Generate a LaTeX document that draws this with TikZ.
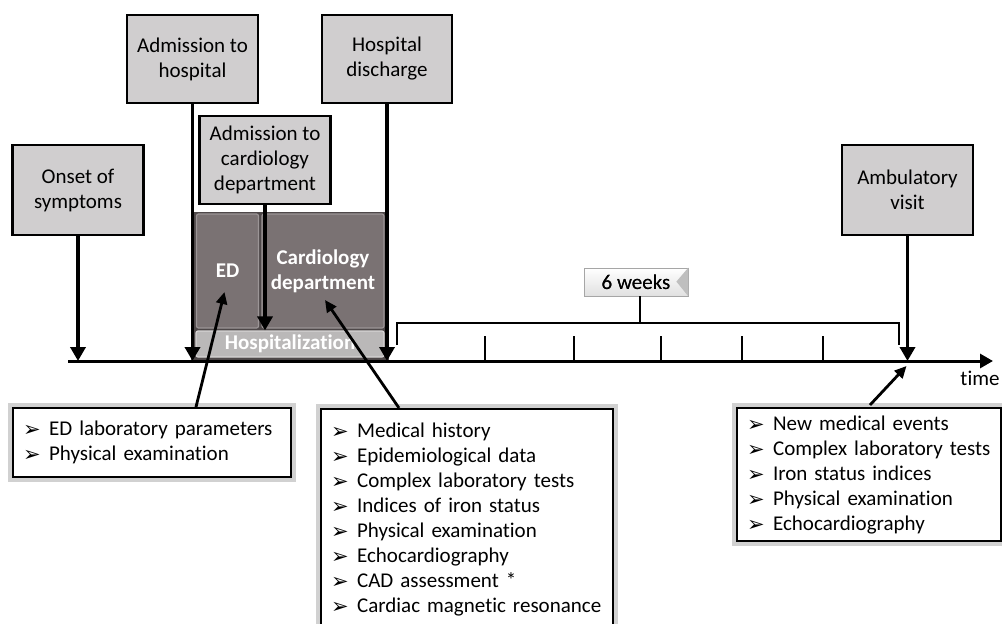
\documentclass[tikz,border=0pt]{standalone}
\usepackage{fontspec}
\setmainfont{Carlito}[Ligatures=NoCommon]
\newfontfamily\symfont{DejaVu Sans}
\usetikzlibrary{arrows.meta,calc}
\definecolor{boxgray}{HTML}{D0CECF}
\definecolor{panelc}{HTML}{7A7273}
\definecolor{paneldark}{HTML}{4E4849}
\definecolor{hospc}{HTML}{BAB8B8}
\newcommand{\itm}[1]{\makebox[26pt][l]{\raisebox{-1pt}{\symfont\fontsize{21}{21}\selectfont ➢}}\mbox{#1}}
\begin{document}
\begin{tikzpicture}[x=1pt,y=-1pt,
  every node/.style={inner sep=0pt},
  bigfont/.style={font=\fontsize{21}{25}\selectfont},
  evbox/.style={draw=black,line width=2.8pt,fill=boxgray,align=center,bigfont,minimum width=131pt,minimum height=88pt},
  downarrow/.style={line width=3.6pt,-{Triangle[width=15pt,length=14pt]}},
  ptr/.style={line width=2.8pt,-{Triangle[width=11pt,length=12pt]}},
  listbox/.style={draw=black,line width=2.2pt,fill=white,align=left,bigfont,inner xsep=10pt,
     preaction={draw=black!18,line width=10pt}},
  panelbox/.style={fill=panelc,draw=panelc!75!white,line width=1.2pt,rounded corners=2pt,text=white,align=center,font=\fontsize{21}{25}\selectfont\bfseries},
  tick/.style={line width=2.5pt}
]
\useasboundingbox (0,0) rectangle (1002,624);

% hospital stay block
\fill[paneldark] (191,212) rectangle (389,360);
\node[panelbox,minimum width=62pt,minimum height=114pt] (edpanel) at (227.5,271) {ED};
\node[panelbox,minimum width=122pt,minimum height=114pt] (cardpanel) at (323,271) {Cardiology\\department};
\node[fill=hospc,draw=hospc!60!white,line width=1.2pt,rounded corners=2pt,text=white,
      font=\fontsize{21}{25}\selectfont\bfseries,minimum width=188pt,minimum height=26pt] (hospbar) at (290,344) {Hospitalization};

% time axis
\coordinate (axisL) at (68,361);
\coordinate (axisR) at (993,361);
\draw[line width=3pt,-{Triangle[width=14pt,length=13pt]}] (axisL) -- (axisR);
\node[bigfont] (timelbl) at (980,378) {time};

% event boxes
\node[evbox,minimum height=90pt] (onset) at (78,190) {Onset of\\symptoms};
\node[evbox] (admhosp) at (192.5,59) {Admission to\\hospital};
\node[evbox] (admcard) at (265,160) {Admission to\\cardiology\\department};
\node[evbox,minimum width=130pt] (discharge) at (387,59) {Hospital\\discharge};
\node[evbox,minimum height=90pt] (ambul) at (907.5,190) {Ambulatory\\visit};

\draw[downarrow] (onset.south) -- (onset.south |- axisL);
\draw[downarrow] (admhosp.south) -- (admhosp.south |- axisL);
\draw[downarrow] (admcard.south) -- (admcard.south |- hospbar.north);
\draw[downarrow] (discharge.south) -- (discharge.south |- axisL);
\draw[downarrow] (ambul.south) -- (ambul.south |- axisL);

% 6 weeks bracket
\node[draw=black!35,line width=0.8pt,top color=white,bottom color=black!12,bigfont,
      minimum width=104pt,minimum height=28pt] (weeks) at (636,282) {6 weeks};
\fill[black!25] (weeks.north east) -- ++(-12,14) -- (weeks.south east) -- cycle;
\node[bigfont] at (weeks.center) {6 weeks};
\coordinate (brL) at (397,323);
\coordinate (brR) at (899,323);
\draw[line width=2.5pt] ($(brL)+(0,22)$) -- (brL) -- (brR) -- ($(brR)+(0,22)$);
\draw[line width=2.5pt] ($(weeks.south)+(4,0)$) -- ($(weeks.south -| brL)+(243,27)$);
\foreach \x in {485,574,661,742,823} \draw[tick] (\x,336) -- (\x,361);

% lists
\node[listbox,anchor=north west,text width=258pt,minimum height=69pt] (listed) at (12,407)
  {\itm{ED laboratory parameters}\\\itm{Physical examination}};
\node[listbox,anchor=north west,text width=272pt,minimum height=220pt] (listcard) at (320,408)
  {\itm{Medical history}\\\itm{Epidemiological data}\\\itm{Complex laboratory tests}\\\itm{Indices of iron status}\\\itm{Physical examination}\\\itm{Echocardiography}\\\itm{CAD assessment *}\\\itm{Cardiac magnetic resonance}};
\node[listbox,anchor=north west,text width=244pt,minimum height=133pt] (listamb) at (736,407)
  {\itm{New medical events}\\\itm{Complex laboratory tests}\\\itm{Iron status indices}\\\itm{Physical examination}\\\itm{Echocardiography}};

% pointers
\draw[ptr] ($(listed.north west)+(184,0)$) -- ($(edpanel.center)+(-3,21)$);
\draw[ptr] ($(listcard.north west)+(79,0)$) -- ($(cardpanel.center)+(2,29)$);
\draw[ptr] ($(listamb.north west)+(134,-2)$) -- ($(ambul.south |- axisL)+(-1,5)$);
\end{tikzpicture}
\end{document}
